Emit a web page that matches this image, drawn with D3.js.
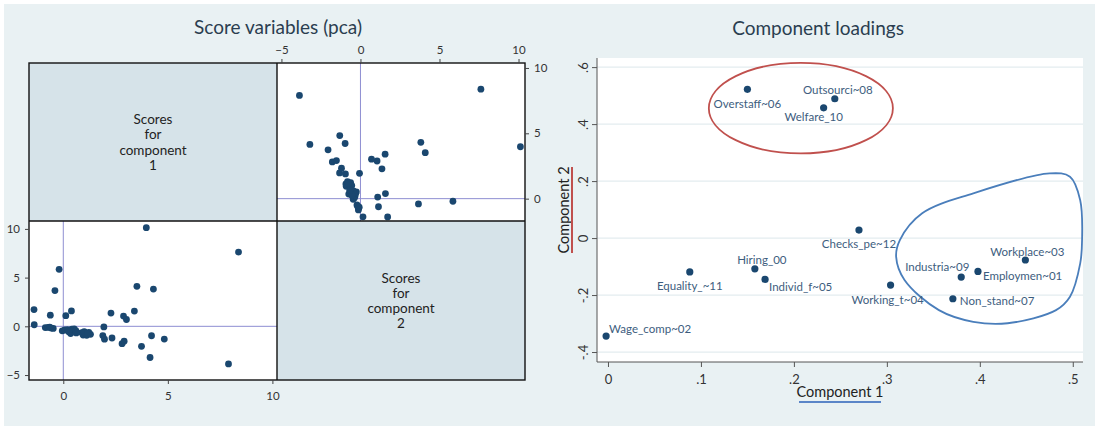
<!DOCTYPE html>
<html>
<head>
<meta charset="utf-8">
<script src="https://cdn.jsdelivr.net/npm/d3@7"></script>
<style>
  body { margin: 0; background: #fff; }
  svg text { font-family: Lato, "Open Sans", "DejaVu Sans", sans-serif; }
</style>
</head>
<body>
<svg id="chart" width="1099" height="430"></svg>
<script>
// ---- PCA score variables (component 1, component 2) per observation ----
const score1 = [-0.40, -1.40, -0.62, 0.39, 0.12, -1.39, -0.86, -0.72, -0.58, -0.48,
                -0.05, 0.07, 0.20, 0.41, 0.35, 0.52, 0.60, 0.88, 0.95, 1.05,
                1.12, 1.22, 1.30, 1.00, 1.94, 1.89, 1.97, 2.33, 2.81, 2.91,
                2.28, 2.88, 3.02, 3.40, 3.52, 4.31, 3.97, 8.38, 3.74, 4.15,
                4.22, 4.83, 7.90, -0.20, 0.26, 1.15, -0.65, 0.62];
const score2 = [3.67, 1.72, 1.14, 1.58, 1.09, 0.16, -0.13, -0.11, -0.18, -0.22,
                -0.46, -0.38, -0.34, -0.30, -0.74, -0.26, -0.45, -0.64, -0.90, -0.68,
                -0.92, -0.62, -0.82, -0.55, -0.06, -0.95, -1.32, -1.20, -1.78, -1.52,
                1.36, 1.05, 0.70, 1.56, 4.10, 3.82, 10.12, 7.62, -2.05, -3.20,
                -0.97, -1.31, -3.86, 5.85, -0.55, -0.75, -0.08, -0.68];
const score1Ticks = [0, 5, 10];
const score2Ticks = [-5, 0, 5, 10];

// ---- Component loadings ----
const loadVars  = ["Overstaff~06", "Outsourci~08", "Welfare_10", "Checks_pe~12", "Hiring_00",
                   "Equality_~11", "Individ_f~05", "Working_t~04", "Industria~09", "Employmen~01",
                   "Workplace~03", "Non_stand~07", "Wage_comp~02"];
const loadComp1 = [0.150, 0.244, 0.232, 0.270, 0.158, 0.088, 0.169, 0.304, 0.380, 0.398, 0.449, 0.371, -0.002];
const loadComp2 = [0.522, 0.489, 0.457, 0.028, -0.108, -0.119, -0.145, -0.165, -0.137, -0.117, -0.077, -0.213, -0.344];
const loadXTicks = [0, 0.1, 0.2, 0.3, 0.4, 0.5];
const loadXTickLabels = ["0", ".1", ".2", ".3", ".4", ".5"];
const loadYTicks = [-0.4, -0.2, 0, 0.2, 0.4, 0.6];
const loadYTickLabels = ["-.4", "-.2", "0", ".2", ".4", ".6"];

// marker-label placement (anchor, dx, dy in px), one per variable
const labelPlacement = [
  ["middle", 0, 14], ["middle", 3, -9], ["middle", -10, 9], ["middle", 0, 13], ["middle", 7, -9.5],
  ["middle", 0, 14], ["start", 4, 7], ["middle", -3, 14], ["middle", -24, -11], ["start", 5, 4],
  ["middle", 2, -9], ["start", 7, 2], ["start", 3, -8]
];

// hand-drawn groupings on the loadings plot, in data units
const upperGroup = { cx: 0.2075, cy: 0.456, rx: 0.099, ry: 0.159 };
const rightGroup = [
  [0.314, -0.007], [0.338, 0.087], [0.393, 0.157], [0.475, 0.227], [0.497, 0.215],
  [0.508, 0.133], [0.510, -0.007], [0.508, -0.089], [0.497, -0.206], [0.482, -0.253],
  [0.430, -0.299], [0.393, -0.294], [0.356, -0.253], [0.319, -0.147], [0.310, -0.066]
];

const scores = score1.map((v, i) => ({ c1: v, c2: score2[i] }));
const loadings = loadVars.map((n, i) => ({ name: n, x: loadComp1[i], y: loadComp2[i], pl: labelPlacement[i] }));

const BG = "#e9f1f3", DIAG = "#d6e3e9", NAVY = "#1a476f", REF = "#8e8ed2";
const TICK_TXT = "#333";

const svg = d3.select("#chart");
svg.append("rect").attr("width", 1099).attr("height", 430).attr("fill", "#fff");
svg.append("rect").attr("x", 4).attr("y", 4).attr("width", 1091).attr("height", 422).attr("fill", BG);

// ================= Scatter matrix of scores =================
const M = { x0: 29, x1: 525, y0: 63, y1: 380, xm: 277, ym: 221 };

svg.append("text").attr("x", 278).attr("y", 34).attr("text-anchor", "middle")
  .attr("font-size", 19).attr("fill", "#2b3e50").text("Score variables (pca)");

// cells
const cells = [
  { x: M.x0, y: M.y0, w: M.xm - M.x0, h: M.ym - M.y0, fill: DIAG },
  { x: M.xm, y: M.y0, w: M.x1 - M.xm, h: M.ym - M.y0, fill: "#fff" },
  { x: M.x0, y: M.ym, w: M.xm - M.x0, h: M.y1 - M.ym, fill: "#fff" },
  { x: M.xm, y: M.ym, w: M.x1 - M.xm, h: M.y1 - M.ym, fill: DIAG }
];
svg.append("g").selectAll("rect").data(cells).join("rect")
  .attr("x", d => d.x).attr("y", d => d.y).attr("width", d => d.w).attr("height", d => d.h)
  .attr("fill", d => d.fill);

// diagonal captions
function caption(cx, cy, num) {
  const lines = ["Scores", "for", "component", num];
  const t = svg.append("text").attr("text-anchor", "middle").attr("font-size", 13.5).attr("fill", "#222");
  lines.forEach((s, i) => t.append("tspan").attr("x", cx).attr("y", cy + (i - 1.5) * 15.2 + 5).text(s));
}
caption((M.x0 + M.xm) / 2, (M.y0 + M.ym) / 2, "1");
caption((M.xm + M.x1) / 2, (M.ym + M.y1) / 2, "2");

// upper-right cell: x = component 2, y = component 1
const urX = d3.scaleLinear().domain([-5.28, 10.41]).range([M.xm, M.x1]);
const urY = d3.scaleLinear().domain([-1.71, 10.38]).range([M.ym, M.y0]);
// lower-left cell: x = component 1, y = component 2
const llX = d3.scaleLinear().domain([-1.64, 10.22]).range([M.x0, M.xm]);
const llY = d3.scaleLinear().domain([-5.51, 10.81]).range([M.y1, M.ym]);

function refLines(xs, ys) {
  const g = svg.append("g").attr("stroke", REF).attr("stroke-width", 1);
  g.append("line").attr("x1", xs(0)).attr("x2", xs(0)).attr("y1", ys.range()[0]).attr("y2", ys.range()[1]);
  g.append("line").attr("x1", xs.range()[0]).attr("x2", xs.range()[1]).attr("y1", ys(0)).attr("y2", ys(0));
}
refLines(urX, urY);
refLines(llX, llY);

svg.append("g").selectAll("circle").data(scores).join("circle")
  .attr("cx", d => urX(d.c2)).attr("cy", d => urY(d.c1)).attr("r", 3.4).attr("fill", NAVY);
svg.append("g").selectAll("circle").data(scores).join("circle")
  .attr("cx", d => llX(d.c1)).attr("cy", d => llY(d.c2)).attr("r", 3.4).attr("fill", NAVY);

// cell borders
const bord = svg.append("g").attr("stroke", "#111").attr("stroke-width", 1.4).attr("fill", "none");
bord.append("rect").attr("x", M.x0).attr("y", M.y0).attr("width", M.x1 - M.x0).attr("height", M.y1 - M.y0);
bord.append("line").attr("x1", M.xm).attr("x2", M.xm).attr("y1", M.y0).attr("y2", M.y1);
bord.append("line").attr("x1", M.x0).attr("x2", M.x1).attr("y1", M.ym).attr("y2", M.ym);

function styleAxis(g, size) {
  g.select(".domain").remove();
  g.selectAll(".tick line").attr("stroke", "#444");
  g.selectAll(".tick text").attr("fill", TICK_TXT).attr("font-size", size).attr("font-family", null);
}
svg.append("g").attr("transform", `translate(0,${M.y0})`)
  .call(d3.axisTop(urX).tickValues(score2Ticks).tickSize(4).tickPadding(5))
  .call(g => styleAxis(g, 11.5));
svg.append("g").attr("transform", `translate(${M.x1},0)`)
  .call(d3.axisRight(urY).tickValues(score1Ticks).tickSize(4).tickPadding(5))
  .call(g => styleAxis(g, 11.5));
svg.append("g").attr("transform", `translate(${M.x0},0)`)
  .call(d3.axisLeft(llY).tickValues(score2Ticks).tickSize(4).tickPadding(5))
  .call(g => styleAxis(g, 11.5));
svg.append("g").attr("transform", `translate(0,${M.y1})`)
  .call(d3.axisBottom(llX).tickValues(score1Ticks).tickSize(4).tickPadding(8))
  .call(g => styleAxis(g, 11.5));

// ================= Component loadings =================
const P = { x0: 597, x1: 1083, y0: 58, y1: 362 };
const lx = d3.scaleLinear().domain([-0.0118, 0.511]).range([P.x0, P.x1]);
const ly = d3.scaleLinear().domain([-0.435, 0.632]).range([P.y1, P.y0]);

svg.append("text").attr("x", 818).attr("y", 35).attr("text-anchor", "middle")
  .attr("font-size", 19).attr("fill", "#2b3e50").text("Component loadings");

svg.append("rect").attr("x", P.x0).attr("y", P.y0).attr("width", P.x1 - P.x0).attr("height", P.y1 - P.y0)
  .attr("fill", "#fff");

svg.append("g").selectAll("line").data(loadYTicks).join("line")
  .attr("x1", P.x0).attr("x2", P.x1).attr("y1", d => ly(d)).attr("y2", d => ly(d))
  .attr("stroke", "#e3ecef").attr("stroke-width", 1.2);

// axes
const yAx = svg.append("g").attr("transform", `translate(${P.x0},0)`)
  .call(d3.axisLeft(ly).tickValues(loadYTicks).tickFormat((d, i) => loadYTickLabels[i]).tickSize(5));
yAx.select(".domain").attr("stroke", "#555").attr("d", `M0,${P.y0}V${P.y1}`);
yAx.selectAll(".tick line").attr("stroke", "#555");
yAx.selectAll(".tick text").attr("fill", TICK_TXT).attr("font-size", 13).attr("font-family", null)
  .attr("x", 0).attr("dy", null).attr("text-anchor", "middle")
  .attr("transform", "translate(-9,0) rotate(-90)");

const xAx = svg.append("g").attr("transform", `translate(0,${P.y1})`)
  .call(d3.axisBottom(lx).tickValues(loadXTicks).tickFormat((d, i) => loadXTickLabels[i]).tickSize(5).tickPadding(8));
xAx.select(".domain").attr("stroke", "#555").attr("d", `M${P.x0},0H${P.x1}`);
xAx.selectAll(".tick line").attr("stroke", "#555");
xAx.selectAll(".tick text").attr("fill", TICK_TXT).attr("font-size", 13).attr("font-family", null);

// axis titles with underlines
svg.append("text").attr("x", (P.x0 + P.x1) / 2).attr("y", 397).attr("text-anchor", "middle")
  .attr("font-size", 14.5).attr("fill", "#222").text("Component 1");
svg.append("line").attr("x1", 799).attr("x2", 881).attr("y1", 402).attr("y2", 402)
  .attr("stroke", "#5b86c8").attr("stroke-width", 2);

const cy2 = (P.y0 + P.y1) / 2;
svg.append("text").attr("transform", `translate(569,${cy2}) rotate(-90)`).attr("text-anchor", "middle")
  .attr("font-size", 14.5).attr("fill", "#222").text("Component 2");
svg.append("line").attr("x1", 572).attr("x2", 572).attr("y1", cy2 - 43).attr("y2", cy2 + 43)
  .attr("stroke", "#c0504d").attr("stroke-width", 2);

// groupings
svg.append("ellipse")
  .attr("cx", lx(upperGroup.cx)).attr("cy", ly(upperGroup.cy))
  .attr("rx", lx(upperGroup.cx + upperGroup.rx) - lx(upperGroup.cx))
  .attr("ry", ly(upperGroup.cy) - ly(upperGroup.cy + upperGroup.ry))
  .attr("fill", "none").attr("stroke", "#c0504d").attr("stroke-width", 1.8);

svg.append("path")
  .attr("d", d3.line().x(d => lx(d[0])).y(d => ly(d[1])).curve(d3.curveCatmullRomClosed.alpha(0.5))(rightGroup))
  .attr("fill", "none").attr("stroke", "#4a7ebb").attr("stroke-width", 1.8);

// loadings markers and labels
svg.append("g").selectAll("circle").data(loadings).join("circle")
  .attr("cx", d => lx(d.x)).attr("cy", d => ly(d.y)).attr("r", 3.6).attr("fill", NAVY);
svg.append("g").selectAll("text").data(loadings).join("text")
  .attr("x", d => lx(d.x) + d.pl[1]).attr("y", d => ly(d.y) + d.pl[2])
  .attr("text-anchor", d => d.pl[0]).attr("dominant-baseline", "central")
  .attr("font-size", 11.5).attr("fill", "#3d5d7e").text(d => d.name);
</script>
</body>
</html>
